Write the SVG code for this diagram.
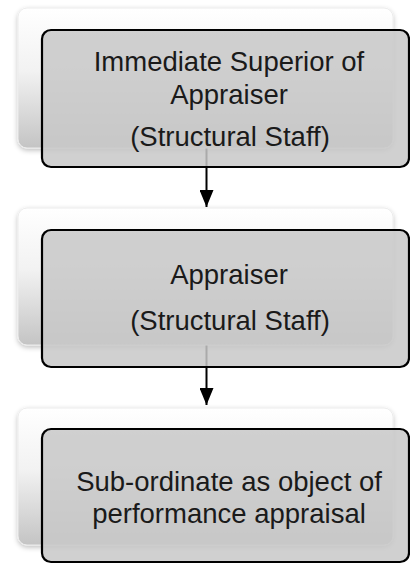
<svg xmlns="http://www.w3.org/2000/svg" width="410" height="564" viewBox="0 0 410 564">
<defs>
  <linearGradient id="bgGrad" x1="0" y1="0" x2="0" y2="1">
    <stop offset="0" stop-color="#ffffff"/>
    <stop offset="0.45" stop-color="#f2f2f2"/>
    <stop offset="1" stop-color="#c4c4c4"/>
  </linearGradient>
  <filter id="soft" x="-10%" y="-10%" width="120%" height="130%">
    <feGaussianBlur in="SourceAlpha" stdDeviation="2.5"/>
    <feOffset dx="0" dy="2" result="b"/>
    <feFlood flood-color="#000" flood-opacity="0.25"/>
    <feComposite in2="b" operator="in"/>
    <feMerge><feMergeNode/><feMergeNode in="SourceGraphic"/></feMerge>
  </filter>
  <marker id="arrow" viewBox="0 0 17 14" refX="17" refY="7" markerWidth="17" markerHeight="14" markerUnits="userSpaceOnUse" orient="auto">
    <path d="M0,0 L17,7 L0,14 Z" fill="#000"/>
  </marker>
</defs>
<style>
  .back { fill: url(#bgGrad); stroke: #ececec; stroke-width: 1; filter: url(#soft); }
  .front { fill: #c8c8c8; fill-opacity: 0.85; stroke: #000; stroke-width: 2.2; }
  .lbl { font-family: "Liberation Sans", Arial, sans-serif; font-size: 27.5px; fill: #1a1a1a; text-anchor: middle; }
  .conn { stroke: #000; stroke-width: 2; fill: none; }
</style>

<g id="connectors">
  <line class="conn" x1="206.5" y1="148" x2="206.5" y2="207" marker-end="url(#arrow)"/>
  <line class="conn" x1="206.5" y1="345" x2="206.5" y2="405" marker-end="url(#arrow)"/>
</g>

<g id="node1">
  <rect class="back" x="18" y="8" width="375" height="140" rx="9"/>
  <rect class="front" x="42" y="30" width="367" height="137" rx="9"/>
  <text class="lbl" x="229" y="71">Immediate Superior of</text>
  <text class="lbl" x="229" y="104">Appraiser</text>
  <text class="lbl" x="230" y="146">(Structural Staff)</text>
</g>

<g id="node2">
  <rect class="back" x="18" y="208" width="375" height="137" rx="9"/>
  <rect class="front" x="42" y="230" width="367" height="137" rx="9"/>
  <text class="lbl" x="229" y="284">Appraiser</text>
  <text class="lbl" x="230" y="330">(Structural Staff)</text>
</g>

<g id="node3">
  <rect class="back" x="18" y="408" width="375" height="137" rx="9"/>
  <rect class="front" x="42" y="429" width="367" height="133" rx="9"/>
  <text class="lbl" x="229" y="491">Sub-ordinate as object of</text>
  <text class="lbl" x="229" y="523">performance appraisal</text>
</g>
</svg>
